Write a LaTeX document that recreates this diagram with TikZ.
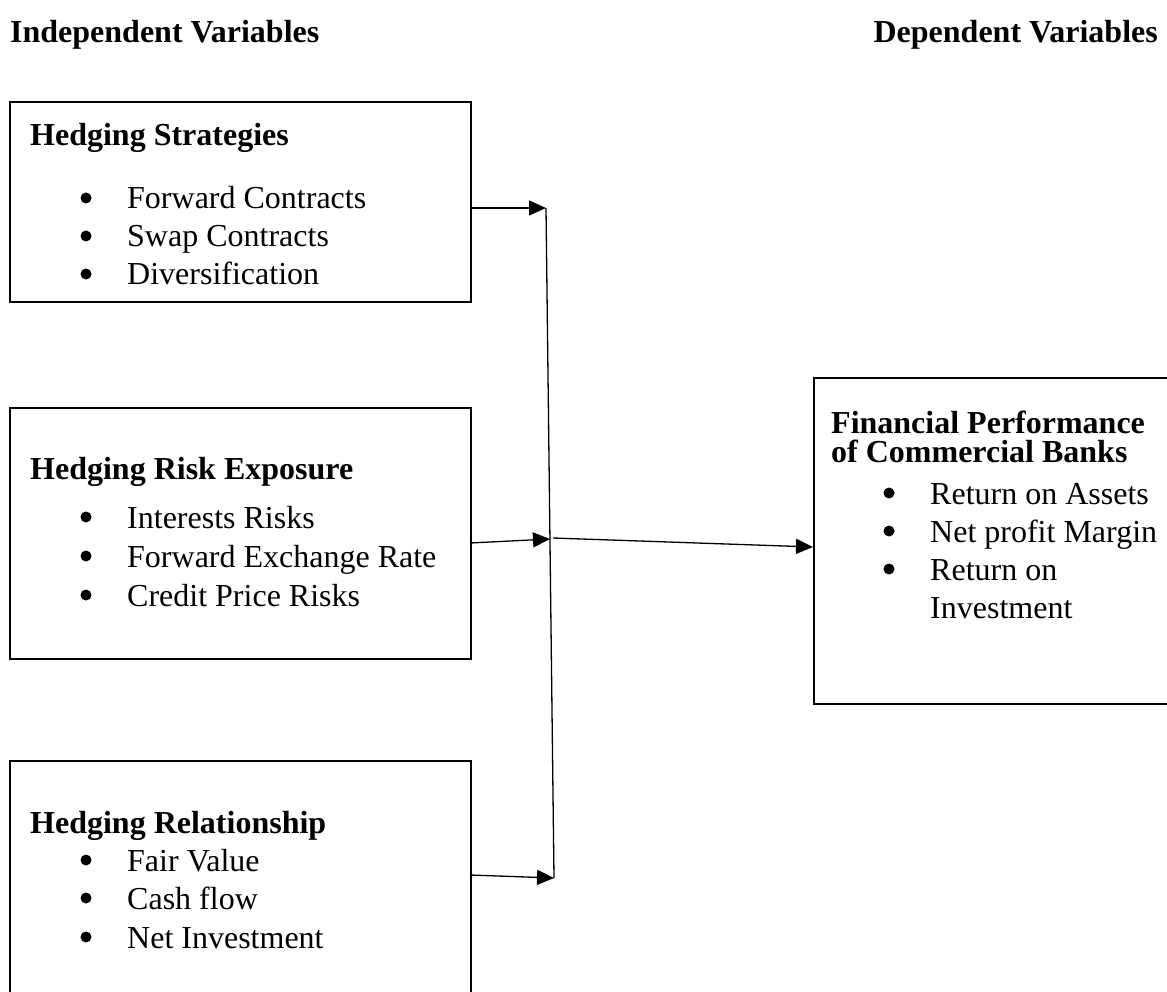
\documentclass[tikz,border=0pt]{standalone}
\usepackage{fontspec}
\setmainfont{Liberation Serif}
\usetikzlibrary{arrows.meta}
\tikzset{
  box/.style={draw, line width=1.7pt, anchor=north west, inner sep=0pt},
  hd/.style={anchor=base west, inner sep=0pt, font=\fontsize{32}{37}\selectfont\bfseries},
  txt/.style={anchor=base west, inner sep=0pt, font=\fontsize{32}{37}\selectfont},
  bul/.style={circle, fill, inner sep=0pt, minimum size=11pt, yshift=11pt},
  conn/.style={line width=1.3pt, -{Triangle[length=17pt,width=15pt]}},
  plain/.style={line width=1.3pt}
}
\begin{document}
\begin{tikzpicture}[x=1pt,y=-1pt]
\useasboundingbox (0,0) rectangle (1167,992);
\clip (0,0) rectangle (1167,992);
% headings
\node[hd] (indep) at (10,43) {Independent Variables};
\node[hd, anchor=base east] (dep) at (1158,43) {Dependent Variables};
% boxes
\node[box, minimum width=461pt, minimum height=200pt] (b1) at (9,101) {};
\node[box, minimum width=461pt, minimum height=251pt] (b2) at (9,407) {};
\node[box, minimum width=461pt, minimum height=260pt] (b3) at (9,760) {};
\node[box, minimum width=380pt, minimum height=326pt] (b4) at (813,377) {};
% box 1 text
\node[hd] (t1) at (30,146) {Hedging Strategies};
\node[bul] (d11) at (86,209) {};
\node[txt] (l11) at (127,209) {Forward Contracts};
\node[bul] (d12) at (86,247) {};
\node[txt] (l12) at (127,247) {Swap Contracts};
\node[bul] (d13) at (86,285) {};
\node[txt] (l13) at (127,285) {Diversification};
% box 2 text
\node[hd] (t2) at (30,479) {Hedging Risk Exposure};
\node[bul] (d21) at (86,528) {};
\node[txt] (l21) at (127,528) {Interests Risks};
\node[bul] (d22) at (86,567) {};
\node[txt] (l22) at (127,567) {Forward Exchange Rate};
\node[bul] (d23) at (86,606) {};
\node[txt] (l23) at (127,606) {Credit Price Risks};
% box 3 text
\node[hd] (t3) at (30,833) {Hedging Relationship};
\node[bul] (d31) at (86,871) {};
\node[txt] (l31) at (127,871) {Fair Value};
\node[bul] (d32) at (86,909) {};
\node[txt] (l32) at (127,909) {Cash flow};
\node[bul] (d33) at (86,948) {};
\node[txt] (l33) at (127,948) {Net Investment};
% box 4 text
\node[hd] (t4a) at (831,433) {Financial Performance};
\node[hd] (t4b) at (831,462) {of Commercial Banks};
\node[bul] (d41) at (889,504) {};
\node[txt] (l41) at (930,504) {Return on Assets};
\node[bul] (d42) at (889,542) {};
\node[txt] (l42) at (930,542) {Net profit Margin};
\node[bul] (d43) at (889,580) {};
\node[txt] (l43) at (930,580) {Return on};
\node[txt] (l44) at (930,618) {Investment};
% connector coordinates
\coordinate (vtop) at (546,208);
\coordinate (vmid) at (550,539);
\coordinate (vbot) at (554,878);
\coordinate (s1) at (470,208);
\coordinate (s2) at (470,543);
\coordinate (s3) at (470,875);
\coordinate (m2) at (553,538);
\coordinate (e4) at (813,547);
% connectors
\draw[plain] (vtop) -- (vbot);
\draw[conn] (s1) -- (vtop);
\draw[conn] (s2) -- (vmid);
\draw[conn] (s3) -- (vbot);
\draw[conn] (m2) -- (e4);
\end{tikzpicture}
\end{document}
